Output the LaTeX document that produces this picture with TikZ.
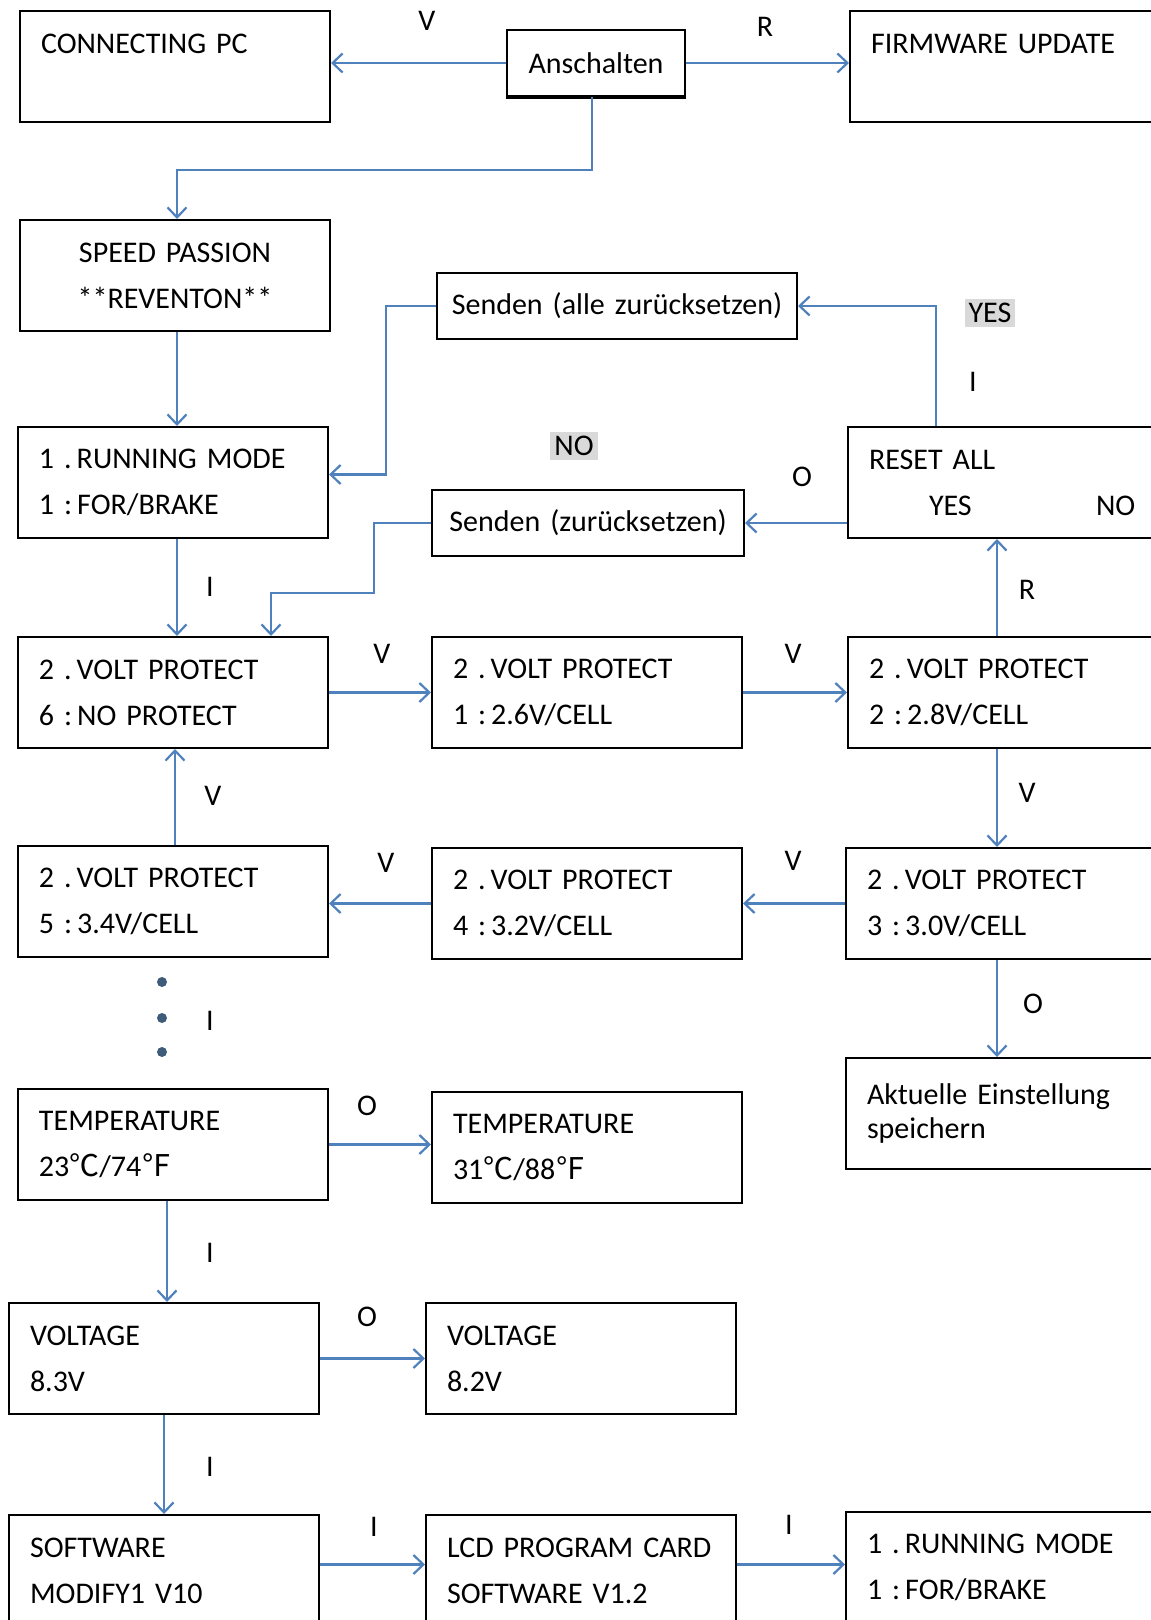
\documentclass[tikz,border=0pt]{standalone}
\usepackage{fontspec}
\setmainfont{Carlito}
\newfontfamily\cjk{Noto Sans CJK SC}
\usetikzlibrary{arrows.meta}
\definecolor{linkblue}{HTML}{4F81BD}
\definecolor{dotblue}{HTML}{3E5B7A}
\tikzset{
  box/.style={draw, line width=1pt, anchor=north west, align=left, inner xsep=10.5pt, inner ysep=0pt,
    text width=134pt, minimum height=55.5pt, font=\fontsize{15}{23}\selectfont},
  edgebox/.style={box, text width=139pt},
  smallbox/.style={box, align=center, inner xsep=5pt, minimum height=33pt},
  link/.style={linkblue, line width=1.1pt, -{Straight Barb[length=5pt,width=9.5pt]}},
  key/.style={inner sep=1pt, font=\fontsize{15}{18}\selectfont},
  greykey/.style={key, fill=black!15, inner sep=2pt},
}
\begin{document}
\begin{tikzpicture}[x=0.5pt,y=-0.5pt]
  \useasboundingbox (0,0) rectangle (1150,1620);
  % start
  \node[box] (pc) at (19,10) {CONNECTING PC\\\mbox{}};
  \node[smallbox, text width=79pt] (ansch) at (506,29) {Anschalten};
  \draw[line width=2pt] (ansch.south west) -- (ansch.south east);
  \node[edgebox] (fw) at (849,10) {FIRMWARE UPDATE\\\mbox{}};
  \node[box, align=center] (speed) at (19,219) {SPEED PASSION\\{}**REVENTON**};
  % reset
  \node[smallbox, text width=170pt] (sendall) at (436,272) {Senden (alle zurücksetzen)};
  \node[box] (rm1) at (17,426) {1 .\,RUNNING MODE\\1 :\,FOR/BRAKE};
  \node[edgebox] (reset) at (847,426) {RESET ALL\\\hspace*{30pt}\makebox[83.5pt][l]{YES}NO};
  \node[smallbox, text width=146pt] (send) at (431,489) {Senden (zurücksetzen)};
  % volt protect
  \node[box] (v6) at (17,636) {2 .\,VOLT PROTECT\\6 :\,NO PROTECT};
  \node[box] (v1) at (431,636) {2 .\,VOLT PROTECT\\1 :\,2.6V/CELL};
  \node[edgebox] (v2) at (847,636) {2 .\,VOLT PROTECT\\2 :\,2.8V/CELL};
  \node[box] (v5) at (17,845) {2 .\,VOLT PROTECT\\5 :\,3.4V/CELL};
  \node[box] (v4) at (431,847) {2 .\,VOLT PROTECT\\4 :\,3.2V/CELL};
  \node[edgebox] (v3) at (845,847) {2 .\,VOLT PROTECT\\3 :\,3.0V/CELL};
  \node[edgebox, font=\fontsize{15}{17}\selectfont] (save) at (845,1057) {Aktuelle Einstellung\\speichern};
  % info screens
  \node[box] (t1) at (17,1088) {TEMPERATURE\\23{\cjk ℃}/74{\cjk ℉}};
  \node[box] (t2) at (431,1091) {TEMPERATURE\\31{\cjk ℃}/88{\cjk ℉}};
  \node[box] (u1) at (8,1302) {VOLTAGE\\8.3V};
  \node[box] (u2) at (425,1302) {VOLTAGE\\8.2V};
  \node[box] (s1) at (8,1514) {SOFTWARE\\MODIFY1 V10};
  \node[box] (lcd) at (425,1514) {LCD PROGRAM CARD\\SOFTWARE V1.2};
  \node[edgebox] (rm2) at (845,1511) {1 .\,RUNNING MODE\\1 :\,FOR/BRAKE};

  % connectors
  \draw[link] (ansch.west) -- (ansch.west -| pc.east);
  \draw[link] (ansch.east) -- (ansch.east -| fw.west);
  \draw[link] ([xshift=-2pt]ansch.south) -- ++(0,73) -| ([xshift=1pt]speed.north);
  \draw[link] ([xshift=1pt]speed.south) -- ([xshift=1pt]speed.south |- rm1.north);
  \draw[link] ([xshift=44.5pt]reset.north west) |- (sendall.east);
  \draw[link] (sendall.west) -- ++(-50,0) |- ([yshift=4pt]rm1.east);
  \draw[link] (send.east -| reset.west) -- (send.east);
  \draw[link] (send.west) -- ++(-57,0) -- ++(0,70) -| ([xshift=127pt]v6.north west);
  \draw[link] ([xshift=2pt]rm1.south) -- ([xshift=2pt]rm1.south |- v6.north);
  \draw[link] (v6.east) -- (v6.east -| v1.west);
  \draw[link] (v1.east) -- (v1.east -| v2.west);
  \draw[link] ([xshift=75pt]v2.north west) -- ([xshift=75pt]v2.north west |- reset.south);
  \draw[link] ([xshift=75pt]v2.south west) -- ([xshift=75pt]v2.south west |- v3.north);
  \draw[link] (v3.west) -- (v3.west -| v4.east);
  \draw[link] (v4.west) -- (v4.west -| v5.east);
  \draw[link] ([xshift=1pt]v5.north) -- ([xshift=1pt]v5.north |- v6.south);
  \draw[link] ([xshift=76pt]v3.south west) -- ([xshift=76pt]v3.south west |- save.north);
  \draw[link] (t1.east) -- (t1.east -| t2.west);
  \draw[link] ([xshift=-3pt]t1.south) -- ([xshift=-3pt]t1.south |- u1.north);
  \draw[link] (u1.east) -- (u1.east -| u2.west);
  \draw[link] (u1.south) -- (u1.south |- s1.north);
  \draw[link] ([yshift=3pt]s1.east) -- ([yshift=3pt]s1.east -| lcd.west);
  \draw[link] ([yshift=3pt]lcd.east) -- ([yshift=3pt]lcd.east -| rm2.west);
  \foreach \y in {982,1018,1052}
    \fill[dotblue] (162,\y) circle (5);

  % key labels
  \node[key] (kV0) at (427,21) {V};
  \node[key] (kR0) at (765,27) {R};
  \node[greykey] (kYes) at (990,313) {YES};
  \node[key] (kI0) at (973,382) {I};
  \node[greykey] (kNo) at (574,446) {NO};
  \node[key] (kO0) at (802,477) {O};
  \node[key] (kI1) at (210,587) {I};
  \node[key] (kR1) at (1027,590) {R};
  \node[key] (kV1) at (382,654) {V};
  \node[key] (kV2) at (793,654) {V};
  \node[key] (kV3) at (213,796) {V};
  \node[key] (kV4) at (1027,793) {V};
  \node[key] (kV5) at (386,863) {V};
  \node[key] (kV6) at (793,861) {V};
  \node[key] (kI2) at (210,1021) {I};
  \node[key] (kO1) at (1033,1004) {O};
  \node[key] (kO2) at (367,1106) {O};
  \node[key] (kI3) at (210,1253) {I};
  \node[key] (kO3) at (367,1317) {O};
  \node[key] (kI4) at (210,1467) {I};
  \node[key] (kI5) at (374,1527) {I};
  \node[key] (kI6) at (789,1525) {I};
\end{tikzpicture}
\end{document}
